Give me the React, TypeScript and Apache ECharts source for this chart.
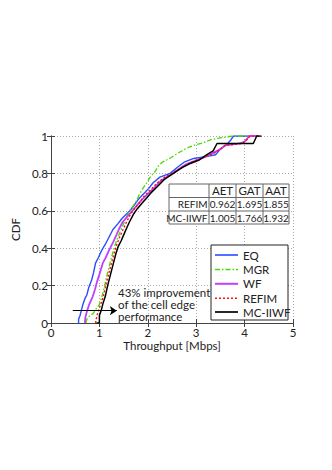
import React, { useEffect, useRef } from 'react';
import * as echarts from 'echarts';

const seriesNames = ['EQ', 'MGR', 'WF', 'REFIM', 'MC-IIWF'];

const eqPts = [[0.57,0],[0.57,0.02],[0.6,0.04],[0.63,0.07],[0.66,0.1],[0.7,0.13],[0.74,0.15],[0.78,0.19],[0.84,0.23],[0.88,0.27],[0.92,0.32],[0.98,0.35],[1.05,0.39],[1.12,0.42],[1.2,0.46],[1.28,0.5],[1.38,0.53],[1.47,0.56],[1.55,0.58],[1.63,0.6],[1.72,0.63],[1.8,0.66],[1.91,0.69],[2.02,0.72],[2.11,0.75],[2.25,0.78],[2.46,0.8],[2.6,0.83],[2.75,0.86],[2.95,0.88],[3.2,0.89],[3.4,0.9],[3.5,0.93],[3.65,0.96],[3.72,0.98],[3.77,1.0],[4.3,1.0]];
const mgrPts = [[0.72,0],[0.74,0.02],[0.8,0.04],[0.87,0.05],[0.92,0.07],[1.0,0.1],[1.05,0.14],[1.1,0.19],[1.16,0.26],[1.23,0.33],[1.3,0.4],[1.37,0.45],[1.45,0.5],[1.53,0.55],[1.6,0.59],[1.68,0.62],[1.76,0.65],[1.83,0.69],[1.9,0.72],[1.98,0.75],[2.05,0.78],[2.15,0.81],[2.22,0.84],[2.3,0.86],[2.45,0.88],[2.57,0.9],[2.7,0.92],[2.85,0.94],[2.95,0.95],[3.1,0.96],[3.3,0.98],[3.5,0.99],[3.75,1.0],[4.3,1.0]];
const wfPts = [[0.7,0],[0.71,0.03],[0.74,0.06],[0.79,0.1],[0.86,0.14],[0.91,0.18],[0.95,0.22],[1.0,0.26],[1.07,0.32],[1.13,0.35],[1.2,0.39],[1.28,0.43],[1.35,0.47],[1.4,0.5],[1.48,0.54],[1.58,0.57],[1.68,0.6],[1.78,0.63],[1.88,0.66],[2.0,0.69],[2.12,0.72],[2.27,0.76],[2.45,0.79],[2.62,0.82],[2.8,0.85],[3.0,0.87],[3.2,0.89],[3.35,0.91],[3.5,0.93],[3.6,0.95],[3.9,0.96],[4.0,0.97],[4.1,1.0],[4.3,1.0]];
const refimPts = [[0.92,0],[0.95,0.04],[1.0,0.08],[1.04,0.11],[1.08,0.14],[1.13,0.2],[1.19,0.26],[1.25,0.32],[1.3,0.37],[1.36,0.42],[1.42,0.46],[1.49,0.5],[1.56,0.54],[1.64,0.58],[1.72,0.61],[1.82,0.64],[1.93,0.68],[2.05,0.71],[2.2,0.75],[2.35,0.78],[2.5,0.8],[2.7,0.83],[2.9,0.86],[3.1,0.88],[3.3,0.9],[3.45,0.92],[3.6,0.95],[3.95,0.96],[4.05,0.98],[4.11,1.0],[4.3,1.0]];
const mciiwfPts = [[0.94,0],[1.0,0],[1.0,0.04],[1.04,0.07],[1.08,0.11],[1.12,0.14],[1.17,0.2],[1.23,0.26],[1.29,0.32],[1.34,0.37],[1.39,0.41],[1.45,0.44],[1.5,0.47],[1.55,0.5],[1.62,0.54],[1.7,0.58],[1.78,0.61],[1.88,0.64],[1.98,0.67],[2.08,0.7],[2.2,0.73],[2.35,0.77],[2.53,0.8],[2.7,0.83],[2.85,0.85],[3.05,0.87],[3.22,0.9],[3.35,0.92],[3.43,0.96],[4.18,0.96],[4.25,1.0],[4.35,1.0]];

const tableHeader = ['', 'AET', 'GAT', 'AAT'];
const tableRows = [
  ['REFIM', '0.962', '1.695', '1.855'],
  ['MC-IIWF', '1.005', '1.766', '1.932'],
];
const annotationLines = ['43% improvement', 'of the cell edge', 'performance'];
const arrowFrom = [0.45, 0.066];
const arrowTo = [1.36, 0.066];

const FONT = 'Lato';

const styles = [
  { color: '#2b4cff', type: 'solid' as any, width: 1.4 },
  { color: '#44dd00', type: [5, 2, 1.5, 2] as any, width: 1.3 },
  { color: '#c040ff', type: 'solid' as any, width: 1.8 },
  { color: '#ff1010', type: [2, 2] as any, width: 1.4 },
  { color: '#000000', type: 'solid' as any, width: 1.5 },
];

export default function App() {
  const ref = useRef<HTMLDivElement>(null);
  useEffect(() => {
    const chart = echarts.init(ref.current!, null, { renderer: 'svg' });

    const colX = [169, 209, 236, 263, 289];
    const rowY = [184, 197.5, 211, 224];
    const tableEls: any[] = [
      { type: 'rect', shape: { x: colX[0], y: rowY[0], width: colX[4] - colX[0], height: rowY[3] - rowY[0] }, style: { fill: '#fff', stroke: '#666', lineWidth: 1 }, z: 100 },
    ];
    for (let i = 1; i < 4; i++) {
      tableEls.push({ type: 'line', shape: { x1: colX[i], y1: rowY[0], x2: colX[i], y2: rowY[3] }, style: { stroke: '#666', lineWidth: 1 }, z: 101 });
    }
    for (let j = 1; j < 3; j++) {
      tableEls.push({ type: 'line', shape: { x1: colX[0], y1: rowY[j], x2: colX[4], y2: rowY[j] }, style: { stroke: '#666', lineWidth: 1 }, z: 101 });
    }
    const allRows = [tableHeader, ...tableRows];
    allRows.forEach((row, r) => {
      row.forEach((cell, c) => {
        if (!cell) return;
        const cy = (rowY[r] + rowY[r + 1]) / 2;
        const isLabel = c === 0;
        tableEls.push({
          type: 'text', z: 102,
          x: isLabel ? colX[1] - 1.5 : (colX[c] + colX[c + 1]) / 2,
          y: cy,
          style: { text: cell, fill: '#222', font: `${r === 0 ? 11.5 : 10}px ${FONT}`, align: isLabel ? 'right' : 'center', verticalAlign: 'middle' },
        });
      });
    });

    // legend drawn manually so dash styles show in the samples
    const legX = 211, legY = 245, legW = 77, legH = 75;
    const legRows = [255, 269.5, 283.8, 298.2, 312];
    const legendEls: any[] = [
      { type: 'rect', z: 100, shape: { x: legX, y: legY, width: legW, height: legH }, style: { fill: '#fff', stroke: '#222', lineWidth: 1 } },
    ];
    seriesNames.forEach((n, i) => {
      const s = styles[i];
      legendEls.push({
        type: 'line', z: 101,
        shape: { x1: 215, y1: legRows[i], x2: 238, y2: legRows[i] },
        style: { stroke: s.color, lineWidth: s.width + 0.2, lineDash: Array.isArray(s.type) ? s.type : null },
      });
      legendEls.push({
        type: 'text', z: 101, x: 243, y: legRows[i],
        style: { text: n, fill: '#222', font: `11.5px ${FONT}`, align: 'left', verticalAlign: 'middle' },
      });
    });

    const mk = (i: number, data: number[][]) => ({
      name: seriesNames[i], type: 'line', data, symbol: 'none', showSymbol: false, smooth: false,
      lineStyle: { ...styles[i] }, itemStyle: { color: styles[i].color },
    });

    const axisCommon = {
      min: 0,
      axisLine: { show: true, lineStyle: { color: '#444', width: 1 } },
      axisTick: { show: true, inside: true, length: 4, lineStyle: { color: '#444' } },
    };

    chart.setOption({
      animation: false,
      backgroundColor: '#fff',
      textStyle: { fontFamily: FONT },
      grid: { left: 51, top: 136, right: 39, bottom: 147 },
      xAxis: [
        {
          ...axisCommon, type: 'value', max: 5, interval: 1, position: 'bottom',
          name: 'Throughput [Mbps]', nameLocation: 'middle', nameGap: 16,
          nameTextStyle: { fontSize: 11.5, color: '#222', fontFamily: FONT },
          axisLabel: { fontSize: 11.5, color: '#222', margin: 3, fontFamily: FONT },
          splitLine: { show: true, lineStyle: { color: '#aaa', type: [1, 2], width: 1 } },
        },
        {
          ...axisCommon, type: 'value', max: 5, interval: 1, position: 'top',
          axisLabel: { show: false }, splitLine: { show: false },
        },
      ],
      yAxis: [
        {
          ...axisCommon, type: 'value', max: 1, interval: 0.2, position: 'left',
          name: 'CDF', nameLocation: 'middle', nameGap: 21, nameRotate: 90,
          nameTextStyle: { fontSize: 11.5, color: '#222', fontFamily: FONT },
          axisLabel: { fontSize: 11.5, color: '#222', margin: 3, fontFamily: FONT },
          splitLine: { show: true, lineStyle: { color: '#aaa', type: [1, 2], width: 1 } },
        },
        {
          ...axisCommon, type: 'value', max: 1, interval: 0.2, position: 'right',
          axisLabel: { show: false }, splitLine: { show: false },
        },
      ],
      series: [
        mk(0, eqPts),
        mk(1, mgrPts),
        mk(2, wfPts),
        mk(3, refimPts),
        {
          ...mk(4, mciiwfPts),
          markLine: {
            silent: true, symbol: ['none', 'arrow'], symbolSize: 7,
            label: { show: false },
            lineStyle: { color: '#000', type: 'solid', width: 1 },
            data: [[{ coord: arrowFrom }, { coord: arrowTo }]],
          },
        },
      ],
      graphic: [
        ...tableEls,
        ...legendEls,
        {
          type: 'text', x: 118, y: 287, z: 60,
          style: { text: annotationLines.join('\n'), font: `11.5px ${FONT}`, fill: '#222', lineHeight: 11.7 },
        },
      ],
    });
    return () => chart.dispose();
  }, []);
  return <div ref={ref} style={{ position: 'absolute', left: 0, top: 0, width: 332, height: 470, background: '#fff' }} />;
}
